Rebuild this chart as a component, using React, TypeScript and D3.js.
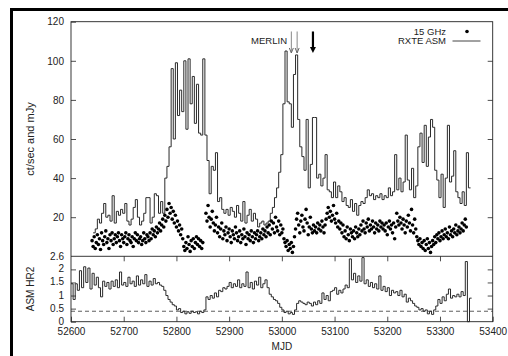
import React, { useEffect, useRef } from 'react';
import * as d3 from 'd3';

// RXTE ASM count rate, 4-day bins starting at MJD 52642
const asmStart = 52642;
const asmBin = 4;
const asmRate = [
  12, 14, 19, 17, 22, 27, 20, 21, 18, 31, 17, 23, 21, 24, 22, 27, 18, 16, 19, 25,
  29, 20, 16, 18, 22, 30, 30, 17, 20, 32, 31, 22, 28, 22, 40, 46, 56, 96, 60, 99,
  72, 85, 74, 100, 65, 101, 78, 92, 68, 88, 63, 62, 101, 62, 49, 32, 46, 44, 53, 28,
  30, 24, 22, 24, 21, 25, 23, 20, 26, 22, 18, 28, 17, 21, 24, 18, 22, 19, 15, 17,
  18, 16, 17, 18, 22, 25, 30, 35, 43, 52, 78, 105, 79, 78, 66, 93, 103, 70, 56, 51,
  44, 70, 35, 47, 71, 71, 40, 42, 36, 40, 52, 34, 33, 30, 38, 30, 36, 33, 28, 30,
  26, 25, 29, 23, 27, 21, 26, 28, 27, 30, 34, 31, 32, 29, 31, 30, 32, 29, 31, 30,
  35, 31, 33, 52, 34, 40, 33, 38, 62, 39, 34, 45, 30, 36, 56, 63, 48, 67, 46, 61,
  70, 66, 44, 39, 30, 42, 25, 40, 67, 38, 41, 54, 33, 30, 27, 33, 26, 53, 35
];

// 15 GHz radio flux [MJD, mJy]
const radio15: [number, number][] = [
  [52640, 8], [52642, 5], [52644, 10], [52646, 4], [52648, 7], [52650, 11], [52652, 6], [52654, 9],
  [52656, 3.5], [52658, 12], [52660, 8], [52662, 6], [52664, 10], [52666, 13], [52668, 7], [52670, 9],
  [52672, 4], [52674, 11], [52676, 8], [52678, 12], [52680, 6], [52682, 9], [52684, 11], [52686, 7],
  [52688, 10], [52690, 12], [52692, 8], [52694, 5], [52696, 11], [52698, 9], [52700, 7], [52702, 10],
  [52704, 12], [52706, 6], [52708, 9], [52710, 11], [52712, 8], [52714, 7], [52716, 10], [52718, 5],
  [52720, 9], [52722, 12], [52724, 8], [52726, 11], [52728, 7], [52730, 9], [52732, 10], [52734, 6],
  [52736, 8], [52738, 12], [52740, 9], [52742, 7], [52744, 11], [52746, 10], [52748, 8], [52750, 12],
  [52752, 9], [52754, 14], [52756, 11], [52758, 13], [52760, 10], [52762, 15], [52764, 12], [52766, 14],
  [52768, 17], [52770, 13], [52772, 16], [52774, 19], [52776, 15], [52778, 21], [52780, 18], [52782, 24],
  [52784, 20], [52786, 27], [52788, 22], [52790, 25], [52792, 19], [52794, 23], [52796, 17], [52798, 21],
  [52800, 15], [52802, 18], [52804, 13], [52806, 16], [52808, 11], [52810, 14], [52812, 9], [52814, 5],
  [52816, 3], [52818, 7], [52820, 4], [52822, 10], [52824, 6], [52826, 2.5], [52828, 8], [52830, 5],
  [52832, 9], [52834, 4], [52836, 7], [52838, 10], [52840, 6], [52842, 9], [52844, 5], [52846, 8],
  [52848, 4], [52850, 7], [52856, 22], [52858, 18], [52860, 26], [52862, 20], [52864, 15], [52866, 19],
  [52868, 23], [52870, 17], [52872, 13], [52874, 16], [52876, 20], [52878, 12], [52880, 15], [52882, 10],
  [52884, 14], [52886, 17], [52888, 9], [52890, 13], [52892, 11], [52894, 15], [52896, 8], [52898, 12],
  [52900, 14], [52902, 10], [52904, 7], [52906, 13], [52908, 11], [52910, 9], [52912, 15], [52914, 12],
  [52916, 8], [52918, 10], [52920, 13], [52922, 7], [52924, 11], [52926, 9], [52928, 14], [52930, 10],
  [52932, 6], [52934, 12], [52936, 9], [52938, 11], [52940, 8], [52942, 13], [52944, 10], [52946, 7],
  [52948, 12], [52950, 9], [52952, 11], [52954, 13], [52956, 8], [52958, 10], [52960, 12], [52962, 9],
  [52964, 14], [52966, 11], [52968, 13], [52970, 10], [52972, 15], [52974, 12], [52976, 16], [52978, 11],
  [52980, 18], [52982, 14], [52984, 17], [52986, 12], [52988, 20], [52990, 15], [52992, 13], [52994, 18],
  [52996, 11], [52998, 16], [53000, 12], [53002, 14], [53004, 9], [53006, 7], [53008, 5], [53010, 8],
  [53012, 3], [53014, 6], [53016, 4], [53018, 7], [53020, 2], [53022, 5], [53024, 10], [53026, 14],
  [53028, 19], [53030, 22], [53032, 16], [53034, 12], [53036, 18], [53038, 21], [53040, 15], [53042, 13],
  [53044, 19], [53046, 24], [53048, 17], [53050, 11], [53052, 15], [53054, 20], [53056, 14], [53058, 12],
  [53060, 16], [53062, 13], [53064, 15], [53066, 12], [53068, 17], [53070, 14], [53072, 16], [53074, 13],
  [53076, 18], [53078, 15], [53080, 12], [53082, 16], [53084, 19], [53086, 22], [53088, 25], [53090, 20],
  [53092, 23], [53094, 18], [53096, 21], [53098, 26], [53100, 19], [53102, 17], [53104, 22], [53106, 15],
  [53108, 18], [53110, 14], [53112, 17], [53114, 12], [53116, 16], [53118, 10], [53120, 13], [53122, 9],
  [53124, 15], [53126, 11], [53128, 8], [53130, 14], [53132, 12], [53134, 10], [53136, 13], [53138, 9],
  [53140, 15], [53142, 12], [53144, 10], [53146, 14], [53148, 11], [53150, 16], [53152, 13], [53154, 18],
  [53156, 14], [53158, 12], [53160, 17], [53162, 15], [53164, 19], [53166, 13], [53168, 16], [53170, 14],
  [53172, 18], [53174, 15], [53176, 12], [53178, 17], [53180, 14], [53182, 16], [53184, 13], [53186, 18],
  [53188, 15], [53190, 17], [53192, 14], [53194, 16], [53196, 13], [53198, 17], [53200, 11], [53202, 15],
  [53204, 18], [53206, 14], [53208, 16], [53210, 12], [53212, 17], [53214, 9], [53216, 15], [53218, 22],
  [53220, 18], [53222, 16], [53224, 20], [53226, 17], [53228, 14], [53230, 19], [53232, 16], [53234, 12],
  [53236, 18], [53238, 15], [53240, 21], [53242, 17], [53244, 13], [53246, 24], [53248, 16], [53250, 12],
  [53252, 19], [53254, 14], [53256, 10], [53258, 8], [53260, 6], [53262, 9], [53264, 5], [53266, 7],
  [53268, 4], [53270, 8], [53272, 3], [53274, 6], [53276, 9], [53278, 4], [53280, 7], [53282, 2],
  [53284, 5], [53286, 8], [53288, 6], [53290, 10], [53292, 7], [53294, 11], [53296, 9], [53298, 12],
  [53300, 8], [53302, 10], [53304, 13], [53306, 9], [53308, 11], [53310, 14], [53312, 10], [53314, 12],
  [53316, 9], [53318, 15], [53320, 11], [53322, 13], [53324, 10], [53326, 14], [53328, 12], [53330, 16],
  [53332, 11], [53334, 13], [53336, 15], [53338, 12], [53340, 14], [53342, 17], [53344, 13], [53346, 16],
  [53348, 19], [53350, 15]
];

// ASM hardness ratio HR2, 4-day bins starting at MJD 52600
const hrStart = 52600;
const hrBin = 4;
const hr2 = [
  1.45, 0.85, 1.45, 1.2, 1.95, 1.3, 2.1, 1.5, 2.05, 1.25, 1.85, 1.4, 1.7, 1.3, 0.95, 1.55, 1.35, 1.5, 1.25, 1.55,
  1.35, 1.6, 1.3, 1.9, 1.4, 1.5, 1.35, 1.7, 1.45, 1.55, 1.35, 1.75, 1.4, 1.6, 1.45, 1.8, 1.35, 1.55, 1.4, 1.65,
  1.45, 1.5, 1.4, 1.35, 1.2, 1.0, 0.85, 0.75, 0.65, 0.6, 0.45, 0.5, 0.35, 0.4, 0.3, 0.38, 0.32, 0.4, 0.35, 0.38,
  0.3, 0.4, 0.35, 0.45, 0.95, 0.85, 1.0, 0.9, 1.1, 0.95, 1.2, 1.15, 1.3, 1.25, 1.35, 1.5, 1.3, 1.45, 1.35, 1.6,
  1.3, 1.45, 1.35, 1.9, 1.3, 1.5, 1.25, 1.55, 1.4, 1.7, 1.3, 1.45, 1.6, 1.3, 1.05, 0.95, 0.85, 0.8, 0.7, 0.55,
  0.45, 0.35, 0.4, 0.3, 0.35, 0.28, 0.45, 0.7, 0.8, 0.75, 0.7, 0.65, 0.75, 0.7, 0.6, 0.75, 0.65, 0.8, 0.7, 1.1,
  0.85, 1.0, 0.8, 1.15, 1.2, 1.3, 1.05, 1.2, 1.1, 1.25, 1.4, 1.3, 2.4, 1.6, 1.85, 1.5, 1.75, 1.55, 2.45, 1.45,
  1.6, 1.35, 1.5, 1.3, 1.45, 1.25, 1.75, 1.2, 1.35, 1.15, 1.3, 1.0, 1.2, 1.1, 1.15, 1.0, 1.2, 0.95, 1.05, 0.75,
  0.9, 0.8, 0.7, 0.6, 0.55, 0.45, 0.5, 0.4, 0.45, 0.3, 0.4, 0.28, 0.45, 0.6, 0.85, 0.7, 0.95, 0.8, 1.05, 1.25,
  0.9, 1.0, 0.95, 1.05, 0.95, 1.15, 1.0, 2.3, 0.0, 0.9
];
const hrRef = 0.4;

const topTicks = [20, 40, 60, 80, 100, 120];
const hrTicks = [0, 0.5, 1, 1.5, 2];
const mjdTicks = [52600, 52700, 52800, 52900, 53000, 53100, 53200, 53300, 53400];
const merlinDays = [53018, 53029];
const mainArrowDay = 53059;

const FONT = '"Liberation Sans", Arial, Helvetica, sans-serif';

export default function App() {
  const ref = useRef<SVGSVGElement>(null);
  useEffect(() => {
    const w = 508, h = 356;
    const left = 71, right = 492.7, top = 21.7, mid = 256.3, bottom = 321.7;
    const svg = d3.select(ref.current).attr('width', w).attr('height', h);
    svg.selectAll('*').remove();

    svg.append('rect').attr('width', w).attr('height', h).attr('fill', '#fff');
    // outer frame
    svg.append('path')
      .attr('d', `M11.5,${h} V9.5 H${w}`)
      .attr('fill', 'none').attr('stroke', '#000').attr('stroke-width', 3);

    const x = d3.scaleLinear().domain([52600, 53400]).range([left, right]);
    const yTop = d3.scaleLinear().domain([0, 120]).range([mid, top]);
    const yHr = d3.scaleLinear().domain([0, 2.5]).range([bottom, mid]);

    const styleAxis = (g: any) => {
      g.select('.domain').remove();
      g.selectAll('line').attr('stroke', '#222').attr('stroke-width', 0.8);
      g.selectAll('text').attr('font-family', FONT).attr('font-size', 10).attr('fill', '#222');
    };

    // top panel axes
    svg.append('g').attr('transform', `translate(${left},0)`)
      .call(d3.axisLeft(yTop).tickValues(topTicks).tickSize(-5).tickPadding(7))
      .call(styleAxis);
    svg.append('g').attr('transform', `translate(${right},0)`)
      .call(d3.axisRight(yTop).tickValues(topTicks.slice(0, 5)).tickSize(-5).tickFormat(() => ''))
      .call(styleAxis);
    svg.append('text').attr('x', 64).attr('y', mid + 3.5).attr('text-anchor', 'end')
      .attr('font-family', FONT).attr('font-size', 10).attr('fill', '#222').text('2.6');

    // bottom panel axes
    svg.append('g').attr('transform', `translate(${left},0)`)
      .call(d3.axisLeft(yHr).tickValues(hrTicks).tickSize(-5).tickPadding(7).tickFormat(d3.format('~g') as any))
      .call(styleAxis)
      .call((g: any) => g.selectAll('text').attr('dy', '0.25em'));
    svg.append('g').attr('transform', `translate(${right},0)`)
      .call(d3.axisRight(yHr).tickValues(hrTicks.slice(1)).tickSize(-5).tickFormat(() => ''))
      .call(styleAxis);
    svg.append('g').attr('transform', `translate(0,${bottom})`)
      .call(d3.axisBottom(x).tickValues(mjdTicks).tickSize(-5).tickPadding(6).tickFormat(d3.format('d') as any))
      .call(styleAxis);
    svg.append('g').attr('transform', `translate(0,${mid})`)
      .call(d3.axisTop(x).tickValues(mjdTicks.slice(1, -1)).tickSize(-5).tickFormat(() => ''))
      .call(styleAxis);

    // dashed reference line in HR2 panel
    svg.append('line')
      .attr('x1', left).attr('x2', right).attr('y1', yHr(hrRef)).attr('y2', yHr(hrRef))
      .attr('stroke', '#333').attr('stroke-width', 0.8).attr('stroke-dasharray', '4,3');

    // ASM step curve
    const asmPts: [number, number][] = asmRate.map((v, i) => [asmStart + i * asmBin, v]);
    asmPts.push([asmStart + asmRate.length * asmBin, asmRate[asmRate.length - 1]]);
    svg.append('path')
      .attr('d', d3.line().x(d => x(d[0])).y(d => yTop(d[1])).curve(d3.curveStepAfter)(asmPts))
      .attr('fill', 'none').attr('stroke', '#2a2a2a').attr('stroke-width', 1);

    // 15 GHz dots
    svg.append('g').selectAll('circle')
      .data(radio15)
      .join('circle')
        .attr('cx', d => x(d[0]))
        .attr('cy', d => yTop(d[1]))
        .attr('r', 1.8)
        .attr('fill', '#000');

    // HR2 step curve
    const hrPts: [number, number][] = hr2.map((v, i) => [hrStart + i * hrBin, v]);
    hrPts.push([hrStart + hr2.length * hrBin, hr2[hr2.length - 1]]);
    svg.append('path')
      .attr('d', d3.line().x(d => x(d[0])).y(d => yHr(d[1])).curve(d3.curveStepAfter)(hrPts))
      .attr('fill', 'none').attr('stroke', '#2a2a2a').attr('stroke-width', 1);

    // plot boxes
    svg.append('rect').attr('x', left).attr('y', top).attr('width', right - left).attr('height', bottom - top)
      .attr('fill', 'none').attr('stroke', '#222').attr('stroke-width', 0.9);
    svg.append('line').attr('x1', left).attr('x2', right).attr('y1', mid).attr('y2', mid)
      .attr('stroke', '#222').attr('stroke-width', 0.9);

    // MERLIN arrows
    const aTop = yTop(115), aBot = yTop(104);
    merlinDays.forEach(d => {
      const ax = x(d);
      svg.append('line').attr('x1', ax).attr('x2', ax).attr('y1', aTop).attr('y2', aBot)
        .attr('stroke', '#888').attr('stroke-width', 1);
      svg.append('path').attr('d', `M${ax - 2},${aBot - 5} L${ax},${aBot} L${ax + 2},${aBot - 5}`)
        .attr('fill', 'none').attr('stroke', '#666').attr('stroke-width', 1);
    });
    const mx = x(mainArrowDay);
    svg.append('line').attr('x1', mx).attr('x2', mx).attr('y1', aTop).attr('y2', aBot - 4)
      .attr('stroke', '#000').attr('stroke-width', 2.2);
    svg.append('path').attr('d', `M${mx - 3},${aBot - 6} L${mx},${aBot} L${mx + 3},${aBot - 6} Z`)
      .attr('fill', '#000');
    svg.append('text').attr('x', 287).attr('y', 43.5).attr('text-anchor', 'end')
      .attr('font-family', FONT).attr('font-size', 9.5).attr('fill', '#222').text('MERLIN');

    // legend
    const lg = svg.append('g').attr('font-family', FONT).attr('font-size', 9.5).attr('fill', '#222');
    lg.append('text').attr('x', 446).attr('y', 34.5).attr('text-anchor', 'end').text('15 GHz');
    lg.append('text').attr('x', 446).attr('y', 44).attr('text-anchor', 'end').text('RXTE ASM');
    svg.append('circle').attr('cx', 467).attr('cy', 31.5).attr('r', 1.8).attr('fill', '#000');
    svg.append('line').attr('x1', 452.5).attr('x2', 480.5).attr('y1', 41).attr('y2', 41)
      .attr('stroke', '#444').attr('stroke-width', 1);

    // axis titles
    svg.append('text').attr('transform', `translate(34,${(top + mid) / 2}) rotate(-90)`)
      .attr('text-anchor', 'middle').attr('font-family', FONT).attr('font-size', 11).attr('fill', '#222')
      .text('ct/sec and mJy');
    svg.append('text').attr('transform', `translate(34,${(mid + bottom) / 2}) rotate(-90)`)
      .attr('text-anchor', 'middle').attr('font-family', FONT).attr('font-size', 10).attr('fill', '#222')
      .text('ASM HR2');
    svg.append('text').attr('x', (left + right) / 2).attr('y', 350).attr('text-anchor', 'middle')
      .attr('font-family', FONT).attr('font-size', 10).attr('fill', '#222').text('MJD');
  }, []);
  return <svg ref={ref} style={{ position: 'absolute', left: 0, top: 0 }} />;
}
